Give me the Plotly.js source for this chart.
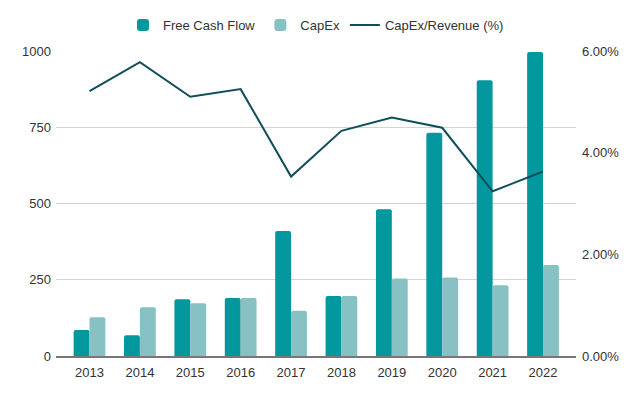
<!DOCTYPE html>
<html><head><meta charset="utf-8">
<script src="https://cdn.plot.ly/plotly-3.0.1.min.js"></script>
<style>html,body{margin:0;padding:0;background:#fff}#chart{width:640px;height:396px}</style>
</head><body><div id="chart"></div>
<script>
const years = ['2013','2014','2015','2016','2017','2018','2019','2020','2021','2022'];
const freeCashFlow = [85, 68, 186, 190, 410, 197, 481, 732, 904, 997];
const capEx = [127, 160, 173, 190, 148, 197, 254, 257, 232, 298];
const capExRevenuePct = [5.21, 5.78, 5.10, 5.25, 3.53, 4.43, 4.69, 4.49, 3.24, 3.63];

const font = {family: 'Liberation Sans, Arial, sans-serif', size: 13, color: '#333333'};
const traces = [
  {type:'bar', name:'Free Cash Flow', x:years, y:freeCashFlow, marker:{color:'#03989e'}},
  {type:'bar', name:'CapEx', x:years, y:capEx, marker:{color:'#88c1c3'}},
  {type:'scatter', mode:'lines', name:'CapEx/Revenue (%)', x:years, y:capExRevenuePct, yaxis:'y2',
   line:{color:'#0f4e5a', width:2}}
];
const layout = {
  width:640, height:396,
  margin:{l:56, r:64, t:51, b:40, autoexpand:false},
  font: font,
  paper_bgcolor:'#fff', plot_bgcolor:'#fff',
  barmode:'group', bargap:0.37, bargroupgap:0, barcornerradius:2,
  showlegend:true,
  legend:{orientation:'h', x:0.5, xanchor:'center', y:1.085, yanchor:'middle', font:font, itemwidth:30, traceorder:'normal'},
  xaxis:{type:'category', range:[-0.665, 9.655], showgrid:false, showline:true, linecolor:'#777', linewidth:2,
         ticks:'', tickfont:font, zeroline:false, automargin:false, ticklabelstandoff:3},
  yaxis:{range:[0,1000], tickvals:[0,250,500,750,1000], showgrid:true, gridcolor:'#d4d4d4', gridwidth:1,
         zeroline:false, showline:false, ticks:'', tickfont:font, ticklabelstandoff:4, automargin:false},
  yaxis2:{range:[0,6], tickvals:[0,2,4,6], ticktext:['0.00%','2.00%','4.00%','6.00%'], overlaying:'y', side:'right',
          showgrid:false, zeroline:false, showline:false, ticks:'', tickfont:font, ticklabelstandoff:5, automargin:false}
};
Plotly.newPlot('chart', traces, layout, {displayModeBar:false, staticPlot:true});
</script></body></html>
